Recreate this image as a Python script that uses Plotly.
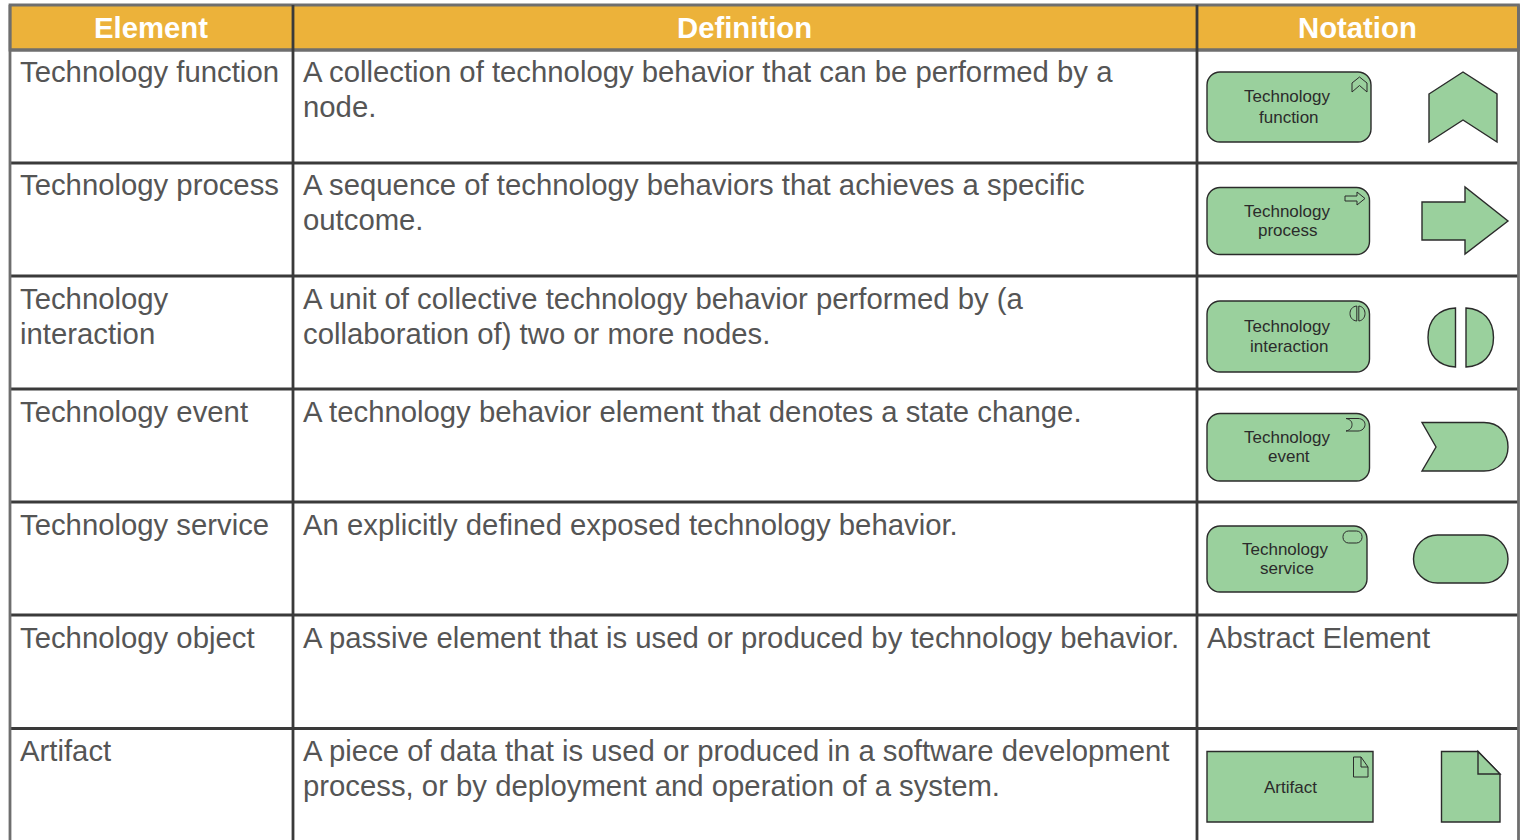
import plotly.graph_objects as go

# ---- table content ----
headers = ["Element", "Definition", "Notation"]
elements = [
    ["Technology function"],
    ["Technology process"],
    ["Technology", "interaction"],
    ["Technology event"],
    ["Technology service"],
    ["Technology object"],
    ["Artifact"],
]
definitions = [
    ["A collection of technology behavior that can be performed by a", "node."],
    ["A sequence of technology behaviors that achieves a specific", "outcome."],
    ["A unit of collective technology behavior performed by (a", "collaboration of) two or more nodes."],
    ["A technology behavior element that denotes a state change."],
    ["An explicitly defined exposed technology behavior."],
    ["A passive element that is used or produced by technology behavior."],
    ["A piece of data that is used or produced in a software development", "process, or by deployment and operation of a system."],
]
abstract_note = "Abstract Element"
box_labels = [
    [("Technology", 1287.5, 96), ("function", 1289, 117)],
    [("Technology", 1287, 211), ("process", 1288, 230)],
    [("Technology", 1287, 326), ("interaction", 1289, 346)],
    [("Technology", 1287, 437), ("event", 1289, 456)],
    [("Technology", 1285.5, 549), ("service", 1287, 568)],
    [("Artifact", 1290, 787)],
]

# ---- grid ----
col_x = [10, 293, 1197, 1518.5]
row_y = [50, 163, 276, 389, 502, 615, 728.5]
text_y = [71, 184.2, 298, 411, 524, 637, 750]
LINE_GAP = 35.4
TOP = 5
BOTTOM = 840

HEAD = "#ECB23A"
GREEN = "#9AD09D"
INK = "#2B2B2B"
GRID = "#3A3A3A"
EDGE = "#6E6E6E"
TXT = "#555555"
FONT = "Liberation Sans, Arial, sans-serif"

shapes, annos = [], []


def rect(x0, y0, x1, y1, fill=None, color=INK, width=1.4):
    shapes.append(dict(type="rect", x0=x0, y0=y0, x1=x1, y1=y1, fillcolor=fill or "rgba(0,0,0,0)",
                       line=dict(color=color, width=width), layer="above"))


def path(d, fill=GREEN, color=INK, width=1.4):
    shapes.append(dict(type="path", path=d, fillcolor=fill or "rgba(0,0,0,0)",
                       line=dict(color=color, width=width), layer="above"))


def poly(pts, fill=GREEN, color=INK, width=1.4):
    path("M " + " L ".join(f"{x},{y}" for x, y in pts) + " Z", fill, color, width)


def rrect(x0, y0, x1, y1, r, fill=GREEN, width=1.4):
    k = r * 0.45
    path(f"M {x0+r},{y0} L {x1-r},{y0} C {x1-k},{y0} {x1},{y0+k} {x1},{y0+r} "
         f"L {x1},{y1-r} C {x1},{y1-k} {x1-k},{y1} {x1-r},{y1} "
         f"L {x0+r},{y1} C {x0+k},{y1} {x0},{y1-k} {x0},{y1-r} "
         f"L {x0},{y0+r} C {x0},{y0+k} {x0+k},{y0} {x0+r},{y0} Z", fill, INK, width)


def text(s, x, y, size=29.3, color=TXT, anchor="left", bold=False):
    annos.append(dict(text=f"<b>{s}</b>" if bold else s, x=x, y=y, xref="x", yref="y", showarrow=False,
                      xanchor=anchor, yanchor="middle", borderpad=0,
                      font=dict(family=FONT, size=size, color=color)))


# header band and borders
rect(col_x[0], TOP, col_x[3], row_y[0], fill=HEAD, color=EDGE, width=2.8)
for i, h in enumerate(headers):
    text(h, (col_x[i] + col_x[i + 1]) / 2 - 0.5, 27.4, color="white", anchor="center", bold=True)

for y in row_y[1:]:
    shapes.append(dict(type="line", x0=col_x[0], x1=col_x[3], y0=y, y1=y, line=dict(color=GRID, width=2.8)))
shapes.append(dict(type="line", x0=col_x[0], x1=col_x[3], y0=row_y[0], y1=row_y[0], line=dict(color=EDGE, width=2.8)))
for i, x in enumerate(col_x):
    c = EDGE if i in (0, 3) else GRID
    shapes.append(dict(type="line", x0=x, x1=x, y0=TOP, y1=BOTTOM, line=dict(color=c, width=2.8)))

# table text
for r, y in enumerate(text_y):
    for j, line in enumerate(elements[r]):
        text(line, 19, y + j * LINE_GAP)
    for j, line in enumerate(definitions[r]):
        text(line, 301.5, y + j * LINE_GAP)
text(abstract_note, 1205.5, text_y[5])

# labelled boxes
for x1, y0, y1 in [(1371, 72, 142), (1369.5, 187.5, 254.5), (1369.5, 301, 372), (1369.5, 413.5, 481), (1367, 526, 592)]:
    rrect(1207, y0, x1, y1, 13)
rect(1207, 751.5, 1373, 822, fill=GREEN)
for labels in box_labels:
    for s, x, y in labels:
        text(s, x, y, size=17, color=INK, anchor="center")

# technology function
poly([(1352, 83), (1359.5, 77), (1367, 83), (1367, 92), (1359.5, 85.5), (1352, 92)], fill=None, width=1)
poly([(1429, 94), (1463, 72), (1497, 94), (1497, 142), (1463, 120), (1429, 142)])

# technology process
poly([(1345, 196), (1357, 196), (1357, 192), (1365, 198.5), (1357, 205), (1357, 201), (1345, 201)], fill=None, width=1)
poly([(1422, 202), (1465, 202), (1465, 187), (1508, 221), (1465, 254), (1465, 240), (1422, 240)])

# technology interaction
path("M 1356.8,306 C 1352,306.5 1350,310 1350,313.5 C 1350,317 1352,320.5 1356.8,321 Z", fill=None, width=1)
path("M 1358.8,306 C 1363,306.5 1365,310 1365,313.5 C 1365,317 1363,320.5 1358.8,321 Z", fill=None, width=1)
path("M 1455.5,308 C 1438,309 1428,320 1428,337.5 C 1428,355 1438,366 1455.5,367 Z")
path("M 1466,308 C 1483,309 1493.5,320 1493.5,337.5 C 1493.5,355 1483,366 1466,367 Z")

# technology event
path("M 1346,418.5 L 1358,418.5 C 1362,418.5 1365,421 1365,424.5 C 1365,428 1362,431 1358,431 L 1346,431 "
     "C 1350,430 1352,428 1352,424.5 C 1352,421 1350,419.5 1346,418.5 Z", fill=None, width=1)
path("M 1422,422.5 L 1484,422.5 C 1499,422.5 1508,433 1508,447 C 1508,460 1499,471 1484,471 L 1422,471 "
     "L 1436,447 Z")

# technology service
rrect(1343, 531, 1362, 543, 5.5, fill=None, width=1)
rrect(1413.5, 535, 1508, 583, 24)

# artifact
path("M 1353.5,757 L 1361,757 L 1368,767 L 1368,777 L 1353.5,777 Z", fill=None, width=1)
path("M 1361,757 L 1361,767 L 1368,767", fill=None, width=1)
path("M 1441.5,751.5 L 1478,751.5 L 1500,774 L 1500,822 L 1441.5,822 Z")
path("M 1478,751.5 L 1478,774 L 1500,774 Z")

fig = go.Figure()
axis = dict(visible=False, showgrid=False, zeroline=False, fixedrange=True)
fig.update_layout(
    width=1523, height=840, margin=dict(l=0, r=0, t=0, b=0),
    paper_bgcolor="white", plot_bgcolor="white", showlegend=False,
    xaxis=dict(range=[0, 1523], **axis),
    yaxis=dict(range=[840, 0], **axis),
    shapes=shapes, annotations=annos,
)
fig.write_html("out.html", config=dict(displayModeBar=False),
               post_script="document.body.style.margin='0';document.body.style.overflow='hidden';")
